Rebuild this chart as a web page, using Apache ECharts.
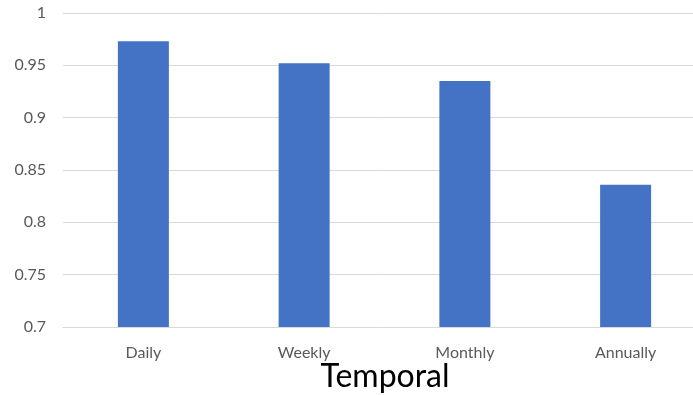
<!DOCTYPE html>
<html>
<head>
<meta charset="utf-8">
<style>
  html, body { margin: 0; padding: 0; background: #ffffff; }
  #chart { width: 693px; height: 395px; }
</style>
<script src="https://cdn.jsdelivr.net/npm/echarts@6/dist/echarts.min.js"></script>
</head>
<body>
<div id="chart"></div>
<script>
// Score per temporal resolution
const categories = ['Daily', 'Weekly', 'Monthly', 'Annually'];
const scores = [0.973, 0.952, 0.935, 0.836];
const yTicks = { min: 0.7, max: 1, interval: 0.05 };
const axisTitle = 'Temporal';

const chart = echarts.init(document.getElementById('chart'), null, { renderer: 'canvas' });

chart.setOption({
  animation: false,
  backgroundColor: '#ffffff',
  textStyle: { fontFamily: 'Lato' },
  grid: {
    left: 63, top: 13, bottom: 68, width: 643,
    containLabel: false,
    outerBoundsMode: 'none'
  },
  // x-axis title, centred under the plot area
  graphic: [{
    type: 'text',
    x: 385,
    y: 377,
    style: {
      text: axisTitle,
      fill: '#000000',
      font: '32px Lato',
      textAlign: 'center',
      textVerticalAlign: 'middle'
    }
  }],
  xAxis: {
    type: 'category',
    data: categories,
    axisLine: { show: true, lineStyle: { color: '#d9d9d9', width: 1 } },
    axisTick: { show: false },
    axisLabel: { color: '#595959', fontSize: 16, margin: 18 }
  },
  yAxis: {
    type: 'value',
    min: yTicks.min,
    max: yTicks.max,
    interval: yTicks.interval,
    axisLine: { show: false },
    axisTick: { show: false },
    splitLine: { lineStyle: { color: '#d9d9d9', width: 1 } },
    axisLabel: {
      color: '#595959',
      fontSize: 16,
      margin: 17,
      formatter: v => String(parseFloat(v.toFixed(2)))
    }
  },
  series: [{
    type: 'bar',
    data: scores,
    barWidth: 51,
    itemStyle: { color: '#4472c4' }
  }]
});
</script>
</body>
</html>
